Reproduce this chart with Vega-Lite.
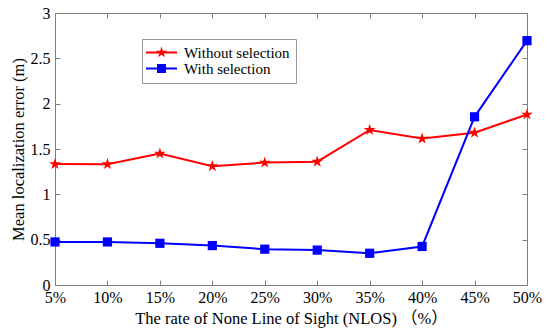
{
  "$schema": "https://vega.github.io/schema/vega-lite/v6.json",
  "width": 472,
  "height": 272,
  "autosize": "none",
  "padding": {"left": 55, "top": 13, "right": 23, "bottom": 46},
  "background": "white",
  "config": {
    "font": "'Liberation Serif', 'Noto Sans CJK SC', serif",
    "view": {"stroke": null},
    "axis": {
      "grid": false,
      "domainColor": "#7f7f7f",
      "domainWidth": 1,
      "tickColor": "#7f7f7f",
      "tickSize": -5,
      "labelFont": "'Liberation Serif', serif",
      "labelFontSize": 16,
      "labelColor": "black",
      "titleFont": "'Liberation Serif', 'Noto Sans CJK SC', serif",
      "titleFontSize": 16.5,
      "titleFontWeight": "normal",
      "titleColor": "black"
    },
    "legend": {
      "labelFont": "'Liberation Serif', serif",
      "labelFontSize": 15,
      "labelColor": "black"
    }
  },
  "data": {
    "values": [
      {"rate": 5, "series": "Without selection", "error": 1.334},
      {"rate": 10, "series": "Without selection", "error": 1.333},
      {"rate": 15, "series": "Without selection", "error": 1.45},
      {"rate": 20, "series": "Without selection", "error": 1.31},
      {"rate": 25, "series": "Without selection", "error": 1.35},
      {"rate": 30, "series": "Without selection", "error": 1.36},
      {"rate": 35, "series": "Without selection", "error": 1.71},
      {"rate": 40, "series": "Without selection", "error": 1.615},
      {"rate": 45, "series": "Without selection", "error": 1.68},
      {"rate": 50, "series": "Without selection", "error": 1.88},
      {"rate": 5, "series": "With selection", "error": 0.475},
      {"rate": 10, "series": "With selection", "error": 0.475},
      {"rate": 15, "series": "With selection", "error": 0.46},
      {"rate": 20, "series": "With selection", "error": 0.435},
      {"rate": 25, "series": "With selection", "error": 0.395},
      {"rate": 30, "series": "With selection", "error": 0.385},
      {"rate": 35, "series": "With selection", "error": 0.35},
      {"rate": 40, "series": "With selection", "error": 0.425},
      {"rate": 45, "series": "With selection", "error": 1.855},
      {"rate": 50, "series": "With selection", "error": 2.695}
    ]
  },
  "resolve": {"axis": {"x": "independent", "y": "independent"}},
  "layer": [
    {
      "mark": {"type": "line", "strokeWidth": 2},
      "encoding": {
        "x": {
          "field": "rate", "type": "quantitative",
          "scale": {"domain": [5, 50], "nice": false, "zero": false},
          "axis": {
            "orient": "bottom",
            "values": [5, 10, 15, 20, 25, 30, 35, 40, 45, 50],
            "labelExpr": "datum.value + '%'",
            "labelFlush": false,
            "labelPadding": 9,
            "title": "The rate of None Line of Sight (NLOS) （%）",
            "titlePadding": 5
          }
        },
        "y": {
          "field": "error", "type": "quantitative",
          "scale": {"domain": [0, 3], "nice": false, "zero": true},
          "axis": {
            "orient": "left",
            "values": [0, 0.5, 1, 1.5, 2, 2.5, 3],
            "format": "~g",
            "labelPadding": 10,
            "title": "Mean localization error (m)",
            "titlePadding": 4
          }
        },
        "color": {
          "field": "series", "type": "nominal",
          "scale": {"domain": ["Without selection", "With selection"], "range": ["#ff0000", "#0000ff"]},
          "legend": {
            "title": null,
            "orient": "none",
            "legendX": 87,
            "legendY": 26,
            "padding": 6,
            "fillColor": "white",
            "strokeColor": "#999999",
            "symbolSize": 100,
            "symbolOffset": 6,
            "labelOffset": 15,
            "rowPadding": 0,
            "encode": {
              "symbols": {
                "update": {
                  "shape": {"signal": "datum.value === 'Without selection' ? 'M-3.1,-0.2H3.1V0.2H-3.1Z M0,-1.2L0.268,-0.368L1.141,-0.371L0.433,0.14L0.706,0.971L0,0.456L-0.706,0.971L-0.433,0.14L-1.141,-0.371L-0.268,-0.368Z' : 'M-3.1,-0.2H3.1V0.2H-3.1Z M-0.9,-0.9H0.9V0.9H-0.9Z'"},
                  "fill": {"signal": "datum.value === 'Without selection' ? '#ff0000' : '#0000ff'"},
                  "strokeWidth": {"value": 0},
                  "fillOpacity": {"value": 1},
                  "opacity": {"value": 1}
                }
              }
            }
          }
        },
        "detail": {"field": "series"}
      }
    },
    {
      "transform": [{"filter": "datum.series === 'Without selection'"}],
      "mark": {"type": "point", "filled": true, "opacity": 1, "color": "#ff0000", "size": 150, "shape": "M0,-1L0.223,-0.307L0.951,-0.309L0.361,0.117L0.588,0.809L0,0.38L-0.588,0.809L-0.361,0.117L-0.951,-0.309L-0.223,-0.307Z"},
      "encoding": {
        "x": {
          "field": "rate", "type": "quantitative",
          "axis": {"orient": "top", "values": [5, 10, 15, 20, 25, 30, 35, 40, 45, 50], "labels": false, "title": null}
        },
        "y": {
          "field": "error", "type": "quantitative",
          "axis": {"orient": "right", "values": [0, 0.5, 1, 1.5, 2, 2.5, 3], "labels": false, "title": null}
        }
      }
    },
    {
      "transform": [{"filter": "datum.series === 'With selection'"}],
      "mark": {"type": "point", "filled": true, "opacity": 1, "color": "#0000ff", "size": 85, "shape": "square"},
      "encoding": {
        "x": {"field": "rate", "type": "quantitative", "axis": null},
        "y": {"field": "error", "type": "quantitative", "axis": null}
      }
    }
  ]
}
